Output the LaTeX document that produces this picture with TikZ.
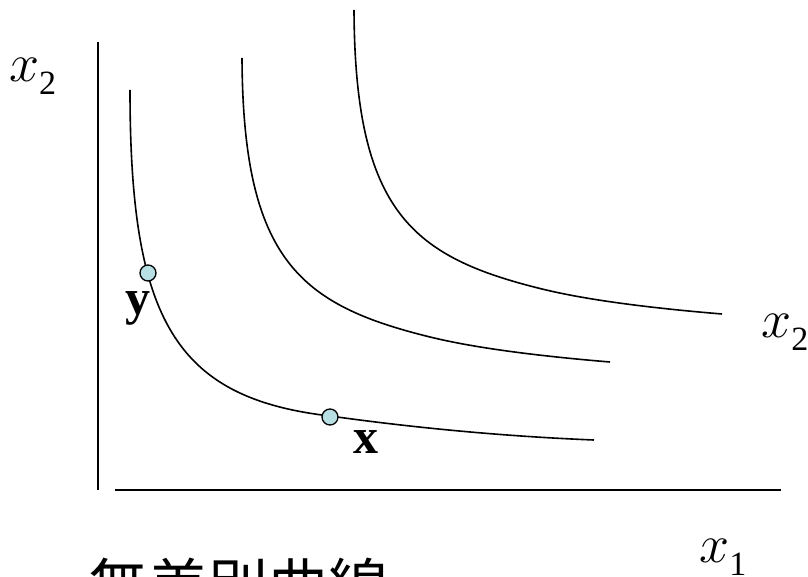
\documentclass[tikz,border=0pt]{standalone}
\usepackage{fix-cm}
\usepackage{fontspec}
\setmainfont{Liberation Serif}
\newfontfamily\cjkfont{Noto Sans CJK JP}
\usetikzlibrary{positioning}
\definecolor{dotfill}{RGB}{184,224,228}

\newcommand{\axlab}[2]{$#1$\raisebox{-13pt}{\fontsize{34}{34}\selectfont #2}}

\begin{document}
\begin{tikzpicture}[x=1pt, y=-1pt,
    axlbl/.style={inner sep=0pt, anchor=base west, font=\fontsize{54}{54}\selectfont},
    ptlbl/.style={inner sep=0pt, anchor=base, font=\fontsize{50}{50}\selectfont\bfseries},
    dot/.style={circle, draw, line width=1.3pt, fill=dotfill, minimum size=16pt, inner sep=0pt},
    icurve/.style={line width=1.6pt}]
      \useasboundingbox (0,0) rectangle (808,577);

      % Axes
      \draw[line width=2.5pt] (98,42) -- (98,490);
      \draw[line width=2.5pt] (115,490) -- (781,490);

      % Indifference curves
      \draw[icurve] (130,90) .. controls (130,320) and (175,398) .. (330,416)
                            .. controls (430,430) and (520,437) .. (594,440);
      \foreach \dx/\dy in {0/0, 112/-48} {
        \draw[icurve, shift={(\dx,\dy)}] (242,58) .. controls (243,260) and (300,305) .. (430,337)
                                                  .. controls (480,349.3) and (550,357) .. (610,362);
      }

      % Bundles
      \node[dot] (ptY) at (148,273) {};
      \node[dot] (ptX) at (330,417) {};
      \node[ptlbl] (lblY) at (138,314) {y};
      \node[ptlbl] (lblX) at (366,453) {x};

      % Axis labels
      \node[axlbl] (lblYaxis) at (9,82) {\axlab{x}{2}};
      \node[axlbl] (lblRight) at (761,337) {\axlab{x}{2}};
      \node[axlbl] (lblXaxis) at (699,562) {\axlab{x}{1}};

      % Title
      \node[inner sep=0pt, anchor=base west, font=\cjkfont\fontsize{60}{60}\selectfont] (title) at (88,608) {無差別曲線};
\end{tikzpicture}
\end{document}
